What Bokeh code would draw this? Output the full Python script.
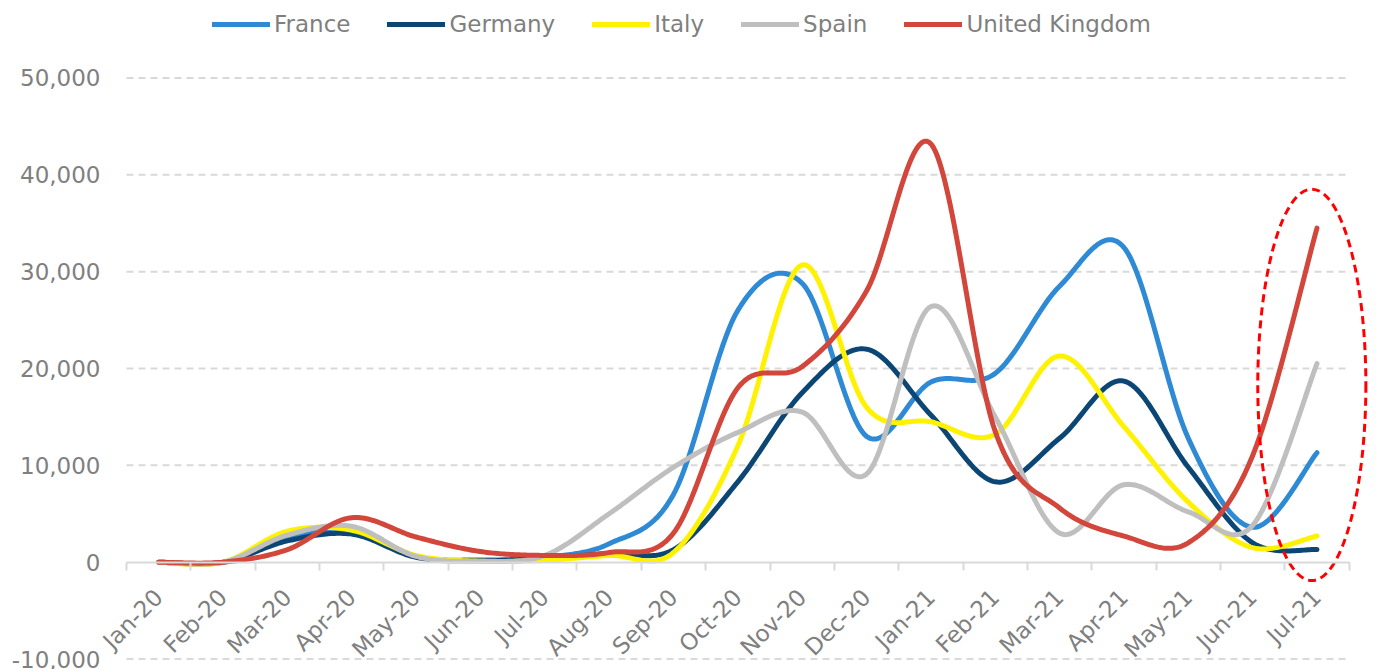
import numpy as np
from bokeh.plotting import figure
from bokeh.models import Range1d, FixedTicker, NumeralTickFormatter, Legend, LegendItem
from bokeh.embed import file_html
from bokeh.resources import INLINE

months = ["Jan-20", "Feb-20", "Mar-20", "Apr-20", "May-20", "Jun-20", "Jul-20",
          "Aug-20", "Sep-20", "Oct-20", "Nov-20", "Dec-20", "Jan-21", "Feb-21",
          "Mar-21", "Apr-21", "May-21", "Jun-21", "Jul-21"]
france = [0, 0, 2500, 3300, 600, 200, 500, 1900, 7000, 26000, 28800, 13000,
          18600, 19500, 28500, 32500, 12800, 3600, 11300]
germany = [0, 0, 2200, 2900, 500, 200, 400, 900, 1300, 8300, 17500, 22000,
           15200, 8300, 12800, 18700, 9800, 2000, 1300]
italy = [0, 0, 3200, 3300, 700, 100, 200, 700, 1000, 12000, 30700, 16000,
         14500, 13200, 21300, 14000, 6200, 1500, 2700]
spain = [0, 0, 2800, 3700, 600, 100, 700, 5000, 9800, 13400, 15500, 9100,
         26400, 15000, 3000, 8000, 5200, 3800, 20500]
uk = [0, 0, 1300, 4600, 2600, 1100, 700, 1000, 3000, 18000, 20200, 28000,
      43200, 13500, 5600, 2700, 2000, 11000, 34500]
series_names = ["France", "Germany", "Italy", "Spain", "United Kingdom"]
yticks = [-10000, 0, 10000, 20000, 30000, 40000, 50000]

colors = ["#2F8AD5", "#0C4675", "#FFF200", "#BFBFBF", "#D2463B"]
FONT = "DejaVu Sans"
TXT = "#7F7F7F"
GRID = "#D9D9D9"


def smooth(ys, steps=30):
    """Excel-like smoothed line: cubic Bezier through each point."""
    pts = np.column_stack([np.arange(len(ys), dtype=float), np.asarray(ys, float)])
    n = len(pts)
    out = []
    for i in range(n - 1):
        p0 = pts[i - 1] if i > 0 else pts[i]
        p1, p2 = pts[i], pts[i + 1]
        p3 = pts[i + 2] if i + 2 < n else pts[i + 1]
        c1 = p1 + (p2 - p0) / 6.0
        c2 = p2 - (p3 - p1) / 6.0
        t = np.linspace(0, 1, steps, endpoint=(i == n - 2))[:, None]
        seg = ((1 - t) ** 3) * p1 + 3 * ((1 - t) ** 2) * t * c1 + 3 * (1 - t) * t ** 2 * c2 + t ** 3 * p2
        out.append(seg)
    arr = np.vstack(out)
    return arr[:, 0], arr[:, 1]


n = len(months)
x_lo, x_hi = -0.5, n - 0.5
PX = 64.35          # pixels per category (layout only)
LEFT_PAD = 36 / PX  # frame extends a bit left of the first category band

p = figure(width=1368, height=669,
           x_range=Range1d(x_lo - LEFT_PAD, x_lo + (1368 - 126) / PX),
           y_range=Range1d(-11080, 57176),
           output_backend="svg", toolbar_location=None,
           min_border_left=90, min_border_right=0, min_border_top=8, min_border_bottom=0)
p.outline_line_color = None
p.xgrid.visible = False
p.ygrid.visible = False

# y axis
p.yaxis.ticker = FixedTicker(ticks=yticks)
p.yaxis.formatter = NumeralTickFormatter(format="0,0")
p.yaxis.axis_line_color = None
p.yaxis.major_tick_line_color = None
p.yaxis.major_tick_in = 0
p.yaxis.major_tick_out = 0
p.yaxis.minor_tick_line_color = None
p.yaxis.major_label_standoff = -10
p.yaxis.major_label_text_font = FONT
p.yaxis.major_label_text_font_size = "23px"
p.yaxis.major_label_text_color = TXT

# x axis drawn at y = 0, ticks between categories
xa = p.xaxis[0]
xa.fixed_location = 0
xa.bounds = (x_lo, x_hi)
xa.ticker = FixedTicker(ticks=list(range(n)), minor_ticks=[i - 0.5 for i in range(n + 1)])
xa.major_label_overrides = {i: m for i, m in enumerate(months)}
xa.major_label_orientation = np.pi / 4
xa.major_label_standoff = 23
xa.major_tick_line_color = None
xa.major_tick_in = 0
xa.major_tick_out = 0
xa.minor_tick_line_color = GRID
xa.minor_tick_line_width = 2
xa.minor_tick_in = 0
xa.minor_tick_out = 8
xa.axis_line_color = GRID
xa.axis_line_width = 2
xa.major_label_text_font = FONT
xa.major_label_text_font_size = "23px"
xa.major_label_text_color = TXT

# dashed horizontal gridlines
gy = [v for v in yticks if v != 0]
p.segment(x0=[x_lo] * len(gy), x1=[x_hi] * len(gy), y0=gy, y1=gy,
          line_color=GRID, line_width=2, line_dash="7 5")

items = []
for name, vals, col in zip(series_names, [france, germany, italy, spain, uk], colors):
    sx, sy = smooth(vals)
    r = p.line(sx, sy, line_color=col, line_width=5, line_cap="round", line_join="round")
    items.append(LegendItem(label=name, renderers=[r]))

# highlight ellipse around the latest month
last = [s[-1] for s in [france, germany, italy, spain, uk]]
top = max(last) + 4050
bot = min(last) - 3230
p.ellipse(x=[n - 1 - 0.08], y=[(top + bot) / 2], width=[1.68], height=[top - bot],
          fill_color=None, line_color="#FF0000", line_width=3, line_dash="8 5")

legend = Legend(items=items, orientation="horizontal", location=(122, 632),
                glyph_width=58, glyph_height=22, label_standoff=4, spacing=37,
                padding=0, margin=0, border_line_color=None, background_fill_alpha=0,
                label_text_font=FONT, label_text_font_size="23px", label_text_color=TXT)
p.add_layout(legend)

open("out.html", "w").write(file_html(p, INLINE))
